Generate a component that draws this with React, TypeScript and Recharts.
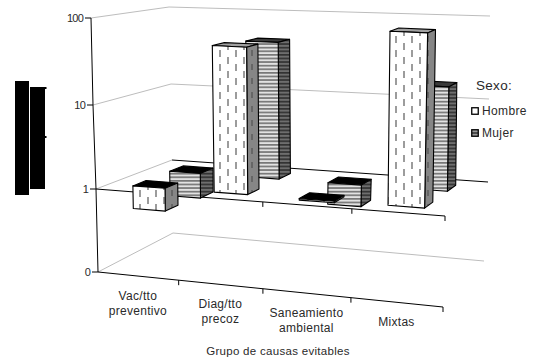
import { BarChart, Bar, XAxis, YAxis, ReferenceLine, Legend } from 'recharts';

const WIDTH = 542;
const HEIGHT = 363;

const categories = ['Vac/tto preventivo', 'Diag/tto precoz', 'Saneamiento ambiental', 'Mixtas'];
const hombreValues = [0.53, 52, 0.96, 94];
const mujerValues = [0.48, 47, 0.54, 17];
const yTicks = [0.1, 1, 10, 100];

const data = categories.map((name, i) => ({
  name,
  hombre: [1, hombreValues[i]],
  mujer: [1, mujerValues[i]],
}));

type Pt = [number, number];

// corners of the 3d box at each level (0, 1, 10, 100): front-left, front-right, back-left, back-right
const PLANES: Pt[][] = [
  [[98, 272], [443, 307], [173, 233], [484, 261]],
  [[96, 189], [445, 216], [172, 160], [488, 182]],
  [[93, 105], [447, 126], [171, 84], [489, 99]],
  [[91, 18], [449, 35], [169, 7], [490, 16]],
];

const lerp = (a: number, b: number, t: number) => a + (b - a) * t;

// the chart is laid out flat over the whole svg; read the library's pixels back as u / level
const uOf = (x: number) => x / WIDTH;
const levelOf = (y: number) => 2 - (3 * y) / HEIGHT;

function project(u: number, level: number, w: number): Pt {
  const warped = u / (1 + 0.092 * (1 - u));
  const idx = Math.max(0, Math.min(2, Math.floor(level + 1)));
  const t = level + 1 - idx;
  const onPlane = (plane: Pt[]): Pt => {
    const f: Pt = [lerp(plane[0][0], plane[1][0], warped), lerp(plane[0][1], plane[1][1], warped)];
    const b: Pt = [lerp(plane[2][0], plane[3][0], warped), lerp(plane[2][1], plane[3][1], warped)];
    return [lerp(f[0], b[0], w), lerp(f[1], b[1], w)];
  };
  const lo = onPlane(PLANES[idx]);
  const hi = onPlane(PLANES[idx + 1]);
  return [lerp(lo[0], hi[0], t), lerp(lo[1], hi[1], t)];
}

const pts = (list: Pt[]) => list.map((p) => `${p[0].toFixed(1)},${p[1].toFixed(1)}`).join(' ');

function bar3d(w0: number, w1: number, front: string, side: string, lid: string) {
  return function Bar3d(props: any) {
    const { x, y, width, height } = props;
    const u0 = uOf(x);
    const u1 = uOf(x + width);
    const l1 = levelOf(y);
    const l2 = levelOf(y + height);
    const top = Math.max(l1, l2);
    const bottom = Math.min(l1, l2);
    // bars hanging below the 1 plane show a black lid
    const lidFill = top <= 0.01 ? '#000' : lid;
    return (
      <g stroke="#000" strokeWidth={1.1} strokeLinejoin="round">
        <polygon
          fill={lidFill}
          points={pts([project(u0, top, w0), project(u1, top, w0), project(u1, top, w1), project(u0, top, w1)])}
        />
        <polygon
          fill={side}
          points={pts([project(u1, top, w0), project(u1, top, w1), project(u1, bottom, w1), project(u1, bottom, w0)])}
        />
        <polygon
          fill={front}
          points={pts([project(u0, top, w0), project(u1, top, w0), project(u1, bottom, w0), project(u0, bottom, w0)])}
        />
      </g>
    );
  };
}

function seg(a: Pt, b: Pt, color: string) {
  return <line x1={a[0]} y1={a[1]} x2={b[0]} y2={b[1]} stroke={color} strokeWidth={1} />;
}

// wall lines for one level, black front edge with ticks on the 0 and 1 planes
function levelFrame(withFront: boolean, backColor: string) {
  return function LevelFrame(props: any) {
    const level = levelOf(props.y1 ?? props.y ?? 0);
    const fl = project(0, level, 0);
    const bl = project(0, level, 1);
    const br = project(1, level, 1);
    return (
      <g>
        {seg(fl, bl, '#bdbdbd')}
        {seg(bl, br, backColor)}
        {withFront && seg(fl, project(1, level, 0), '#000')}
        {withFront &&
          categories.map((c, i) => {
            const p = project((i + 1) / categories.length, level, 0);
            return <line key={c} x1={p[0]} y1={p[1]} x2={p[0]} y2={p[1] + 5} stroke="#000" strokeWidth={1} />;
          })}
      </g>
    );
  };
}

function XTick(props: any) {
  const { x, payload } = props;
  const p = project(uOf(x), -1, 0);
  return (
    <text x={p[0]} y={p[1] + 23.5} textAnchor="middle" fontSize={12} fontFamily="Liberation Sans" fill="#2a2a2a" letterSpacing={0.3}>
      {String(payload.value)
        .split(' ')
        .map((line, i) => (
          <tspan key={line} x={p[0]} dy={i === 0 ? 0 : 15}>
            {line}
          </tspan>
        ))}
    </text>
  );
}

function YTick(props: any) {
  const { payload } = props;
  const level = Math.log10(payload.value);
  const p = project(0, level, 0);
  return (
    <g>
      {level > -1 && seg(p, project(0, level - 1, 0), '#000')}
      {seg([p[0] - 6, p[1]], p, '#000')}
      <text x={p[0] - 8} y={p[1] + 4} textAnchor="end" fontSize={11} fontFamily="Liberation Sans" fill="#2a2a2a" letterSpacing={-0.8}>
        {payload.value < 1 ? '0' : payload.value}
      </text>
    </g>
  );
}

function LegendBox(props: any) {
  const items = props.payload ?? [];
  return (
    <div style={{ fontFamily: 'Liberation Sans', color: '#2a2a2a' }}>
      <div style={{ fontSize: 13.5, height: 22, marginLeft: 5, letterSpacing: 0.3 }}>Sexo:</div>
      {items.map((item: any) => (
        <div key={item.value} style={{ display: 'flex', alignItems: 'center', height: 22, fontSize: 12, letterSpacing: 0.35 }}>
          <svg width={11} height={8}>
            <rect x={0.75} y={0.75} width={6.5} height={6.5} fill={item.value === 'Hombre' ? '#fff' : '#999'} stroke="#000" strokeWidth={1.3} />
            {item.value === 'Mujer' && <line x1={1} y1={4} x2={7} y2={4} stroke="#000" />}
          </svg>
          {item.value}
        </div>
      ))}
    </div>
  );
}

export default function App() {
  return (
    <div style={{ position: 'absolute', left: 0, top: 0, width: WIDTH, height: HEIGHT }}>
      <BarChart
        width={WIDTH}
        height={HEIGHT}
        data={data}
        barSize={54.2}
        barGap={-54.2}
        margin={{ top: 0, right: 0, bottom: -1, left: -1 }}
      >
        <defs>
          <pattern id="dashFront" patternUnits="userSpaceOnUse" width={16} height={14}>
            <rect width={16} height={14} fill="#fff" />
            <rect x={3} y={1} width={2} height={7} fill="#9c9c9c" />
            <rect x={11} y={8} width={2} height={6} fill="#9c9c9c" />
            <rect x={11} y={0} width={2} height={1} fill="#9c9c9c" />
          </pattern>
          <pattern id="dashSide" patternUnits="userSpaceOnUse" width={16} height={14}>
            <rect width={16} height={14} fill="#868686" />
            <rect x={3} y={1} width={2} height={7} fill="#666" />
            <rect x={11} y={8} width={2} height={6} fill="#666" />
          </pattern>
          <pattern id="stripeFront" patternUnits="userSpaceOnUse" width={4} height={3.6}>
            <rect width={4} height={3.6} fill="#e2e2e2" />
            <rect y={0} width={4} height={1.7} fill="#777" />
          </pattern>
          <pattern id="stripeSide" patternUnits="userSpaceOnUse" width={4} height={3.6}>
            <rect width={4} height={3.6} fill="#6e6e6e" />
            <rect y={0} width={4} height={1.7} fill="#333" />
          </pattern>
        </defs>
        <XAxis dataKey="name" height={1} interval={0} axisLine={false} tickLine={false} tick={<XTick />} />
        <YAxis
          scale="log"
          domain={[0.1, 100]}
          ticks={yTicks}
          width={1}
          interval={0}
          allowDataOverflow
          axisLine={false}
          tickLine={false}
          tick={<YTick />}
        />
        <ReferenceLine y={0.1} zIndex={1} shape={levelFrame(true, '#bdbdbd')} />
        <ReferenceLine y={1} zIndex={1} shape={levelFrame(true, '#000')} />
        <ReferenceLine y={10} zIndex={1} shape={levelFrame(false, '#bdbdbd')} />
        <ReferenceLine y={100} zIndex={1} shape={levelFrame(false, '#bdbdbd')} />
        <Bar
          dataKey="mujer"
          name="Mujer"
          isAnimationActive={false}
          shape={bar3d(0.67, 0.85, 'url(#stripeFront)', 'url(#stripeSide)', '#3a3a3a')}
        />
        <Bar
          dataKey="hombre"
          name="Hombre"
          isAnimationActive={false}
          shape={bar3d(0.17, 0.35, 'url(#dashFront)', 'url(#dashSide)', '#a0a0a0')}
        />
        <Legend
          content={<LegendBox />}
          layout="vertical"
          align="center"
          verticalAlign="middle"
          wrapperStyle={{ position: 'absolute', left: 471, top: 78, width: 70 }}
        />
        <rect x={15} y={81} width={14} height={114} fill="#000" />
        <rect x={30} y={87} width={15} height={102} fill="#000" />
        <rect x={45} y={87} width={1.5} height={2} fill="#000" />
        <rect x={45} y={136} width={1.5} height={2} fill="#000" />
        <text x={278} y={355} textAnchor="middle" fontSize={11.5} fontFamily="Liberation Sans" fill="#2a2a2a" letterSpacing={0.3}>
          Grupo de causas evitables
        </text>
      </BarChart>
    </div>
  );
}
